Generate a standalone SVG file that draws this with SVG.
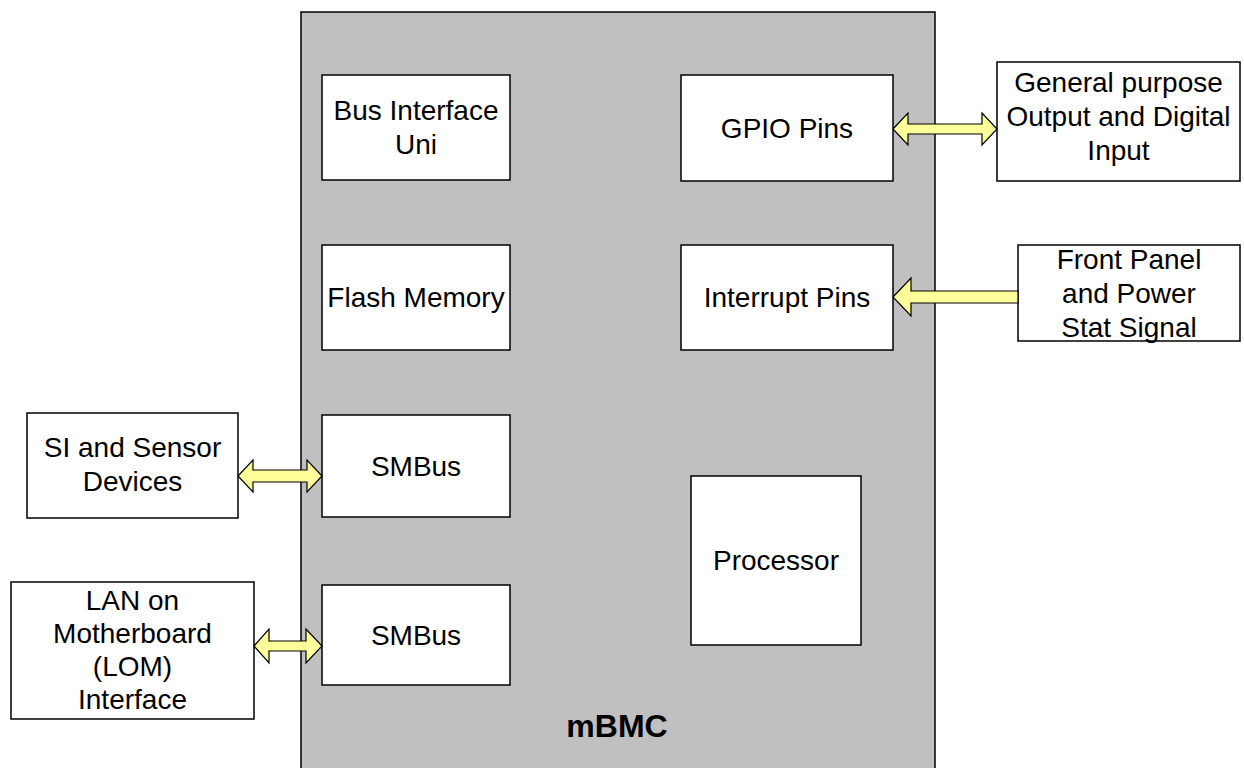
<svg xmlns="http://www.w3.org/2000/svg" width="1244" height="768" viewBox="0 0 1244 768">
<style>
.box{fill:#ffffff;stroke:#000000;stroke-width:1.5}
.main{fill:#c0c0c0;stroke:#000000;stroke-width:1.5}
.t{font-family:"Liberation Sans",Arial,sans-serif;font-size:28px;fill:#000000;text-anchor:middle}
.tb{font-family:"Liberation Sans",Arial,sans-serif;font-size:32px;font-weight:bold;fill:#000000;text-anchor:middle}
.arr{fill:#ffff99;stroke:#000000;stroke-width:1.2;stroke-linejoin:miter}
</style>
<rect width="1244" height="768" fill="#ffffff"/>
<g id="mbmc">
<rect class="main" x="301" y="12" width="634" height="770"/>
<text class="tb" x="617" y="737">mBMC</text>
</g>
<g id="bus-interface">
<rect class="box" x="322" y="75" width="188" height="105"/>
<text class="t" x="416" y="120">Bus Interface</text>
<text class="t" x="416" y="154">Uni</text>
</g>
<g id="flash-memory">
<rect class="box" x="322" y="245" width="188" height="105"/>
<text class="t" x="416" y="307">Flash Memory</text>
</g>
<g id="smbus1">
<rect class="box" x="322" y="415" width="188" height="102"/>
<text class="t" x="416" y="476">SMBus</text>
</g>
<g id="smbus2">
<rect class="box" x="322" y="585" width="188" height="100"/>
<text class="t" x="416" y="645">SMBus</text>
</g>
<g id="gpio-pins">
<rect class="box" x="681" y="75" width="212" height="106"/>
<text class="t" x="787" y="138">GPIO Pins</text>
</g>
<g id="interrupt-pins">
<rect class="box" x="681" y="245" width="212" height="105"/>
<text class="t" x="787" y="307">Interrupt Pins</text>
</g>
<g id="processor">
<rect class="box" x="691" y="476" width="170" height="169"/>
<text class="t" x="776" y="570">Processor</text>
</g>
<g id="gpio-external">
<rect class="box" x="997" y="62" width="243" height="119"/>
<text class="t" x="1118.5" y="92">General purpose</text>
<text class="t" x="1118.5" y="126">Output and Digital</text>
<text class="t" x="1118.5" y="160">Input</text>
</g>
<g id="front-panel">
<rect class="box" x="1018" y="245" width="222" height="96"/>
<text class="t" x="1129" y="269">Front Panel</text>
<text class="t" x="1129" y="303">and Power</text>
<text class="t" x="1129" y="337">Stat Signal</text>
</g>
<g id="sensor-devices">
<rect class="box" x="27" y="413" width="211" height="105"/>
<text class="t" x="132.5" y="457">SI and Sensor</text>
<text class="t" x="132.5" y="491">Devices</text>
</g>
<g id="lom">
<rect class="box" x="11" y="582" width="243" height="137"/>
<text class="t" x="132.5" y="610">LAN on</text>
<text class="t" x="132.5" y="643">Motherboard</text>
<text class="t" x="132.5" y="676">(LOM)</text>
<text class="t" x="132.5" y="709">Interface</text>
</g>
<g id="connectors">
<polygon class="arr" points="893,129 908,113 908,124 982,124 982,113 997,129 982,145 982,134 908,134 908,145"/>
<polygon class="arr" points="893,297 911,278 911,291 1018,291 1018,303 911,303 911,316"/>
<polygon class="arr" points="238,476 253,460 253,470 307,470 307,460 322,476 307,492 307,482 253,482 253,492"/>
<polygon class="arr" points="254,646 269,629 269,641 306,641 306,629 322,646 306,663 306,651 269,651 269,663"/>
</g>
</svg>
